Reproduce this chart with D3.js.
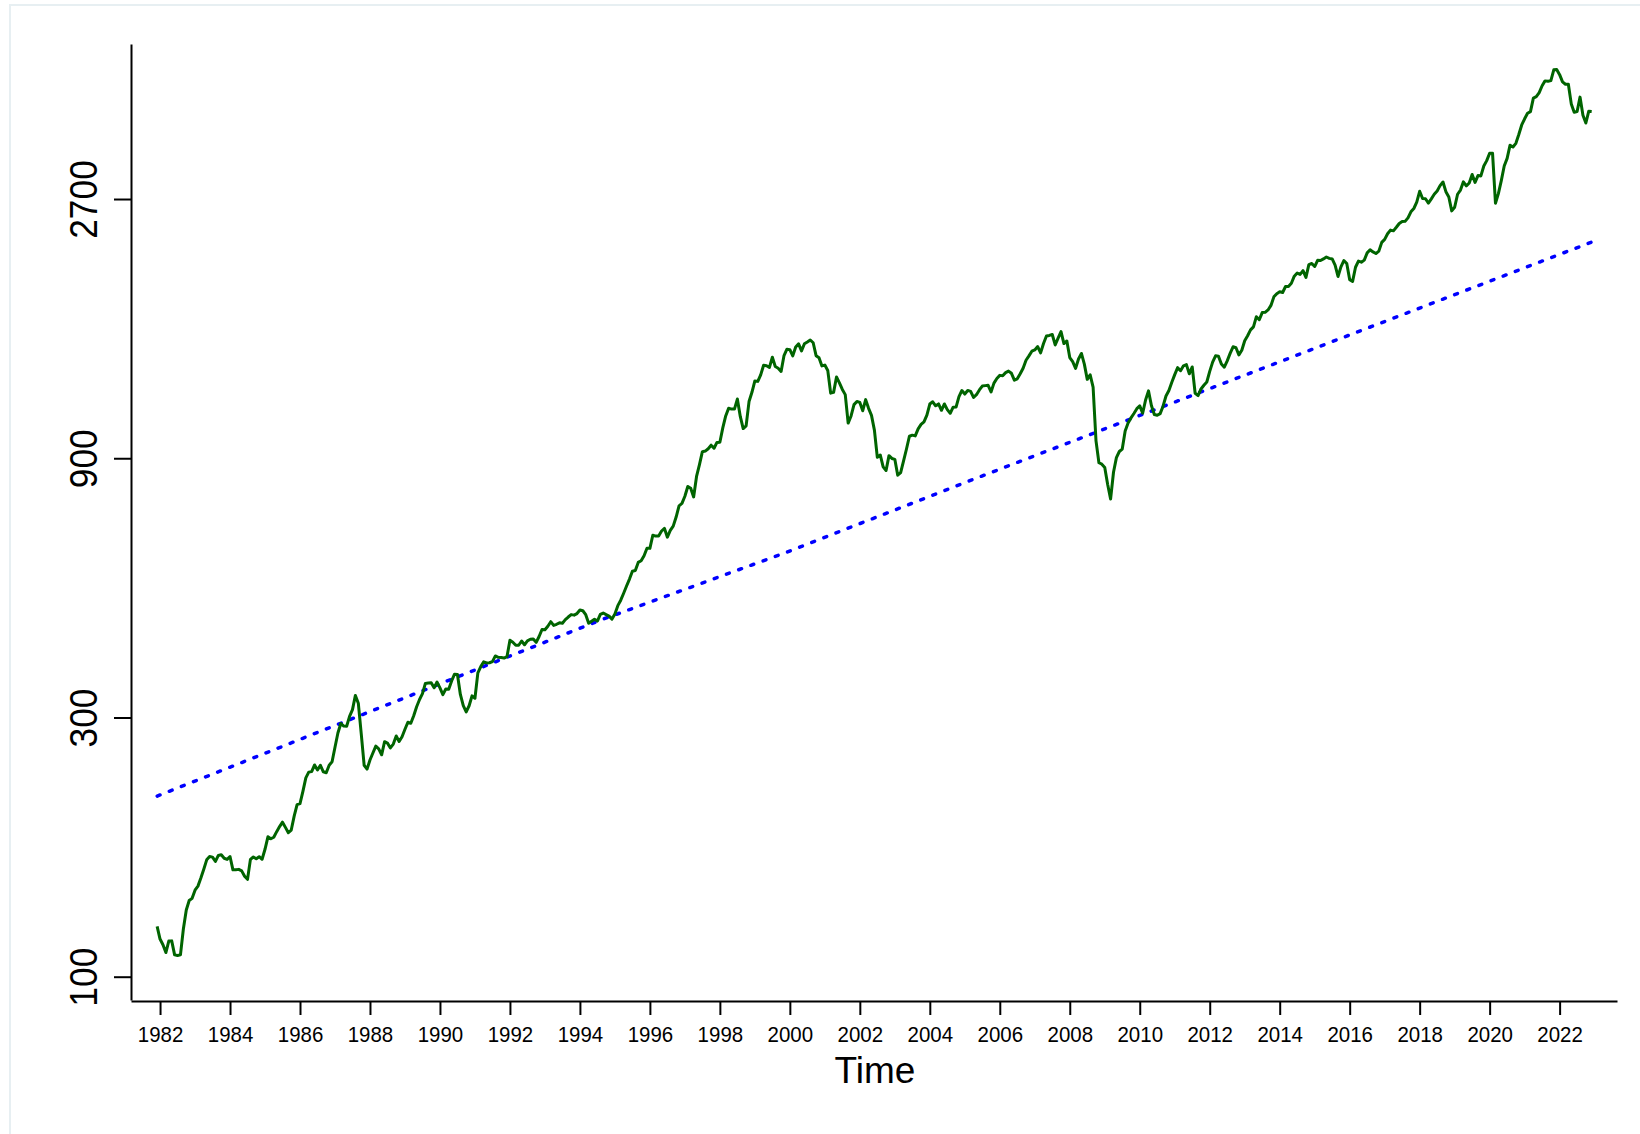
<!DOCTYPE html>
<html>
<head>
<meta charset="utf-8">
<script src="https://cdn.jsdelivr.net/npm/d3@7"></script>
<style>
    body { margin: 0; background: #fff; }
    #chart text { font-family: "Liberation Sans", Arial, Helvetica, sans-serif; fill: #000; }
</style>
</head>
<body>
<div id="chart"></div>
<script>
// S&P 500, monthly average level, Dec 1981 .. Dec 2022
const firstMonth = {year: 1981, month: 11}; // December 1981, month index 0..11

const sp1980s = [
    123.8,
    117.3, 114.5, 110.8, 116.3, 116.4, 109.7, 109.4, 109.7, 122.4, 132.7, 138.1, 139.4,
    144.3, 146.8, 151.9, 157.7, 164.1, 166.4, 166.0, 163.0, 167.2, 167.7, 165.2, 164.4,
    166.4, 157.3, 157.4, 157.6, 156.6, 153.1, 151.1, 164.4, 166.1, 164.8, 166.3, 164.5,
    171.6, 180.9, 179.4, 180.6, 184.9, 188.9, 192.5, 188.3, 184.1, 186.2, 197.5, 207.3,
    208.2, 219.4, 232.3, 238.0, 238.5, 245.3, 240.2, 245.0, 238.3, 237.4, 245.1, 248.6,
    264.5, 280.9, 292.5, 289.3, 289.1, 301.4, 310.1, 329.4, 318.7, 280.2, 245.0, 241.0,
    250.5, 258.1, 265.7, 262.6, 256.1, 270.7, 269.1, 263.7, 268.0, 277.4, 271.0, 276.5,
    285.4, 294.0, 292.7, 302.3, 313.9, 323.7, 331.9, 346.6, 347.3, 347.4, 340.2, 348.6
];
const sp1990s = [
    340.0, 330.5, 338.5, 338.2, 350.3, 360.4, 360.0, 330.8, 315.4, 307.1, 315.3, 328.8,
    325.5, 362.3, 372.3, 379.7, 378.0, 378.3, 380.2, 389.4, 387.2, 386.9, 385.9, 388.5,
    416.1, 412.6, 407.4, 407.4, 414.8, 408.3, 415.1, 417.9, 418.5, 412.5, 422.8, 435.6,
    435.2, 441.7, 450.2, 443.1, 445.3, 448.1, 447.3, 454.1, 459.2, 463.9, 462.9, 466.0,
    473.0, 471.6, 463.8, 447.2, 450.9, 454.8, 451.4, 464.2, 467.0, 463.8, 461.0, 455.2,
    465.3, 481.9, 493.2, 507.9, 523.8, 539.4, 557.4, 559.1, 578.8, 582.9, 595.5, 614.6,
    614.4, 649.5, 647.1, 647.2, 661.2, 668.5, 644.1, 662.7, 674.9, 701.5, 735.7, 743.3,
    766.2, 798.4, 792.2, 763.9, 833.1, 876.3, 925.3, 927.7, 937.0, 951.2, 938.9, 962.4,
    963.4, 1023.7, 1076.8, 1112.2, 1108.4, 1108.4, 1156.6, 1074.6, 1020.6, 1032.5, 1144.4, 1190.1,
    1248.8, 1246.6, 1281.7, 1334.8, 1332.1, 1322.6, 1381.0, 1327.5, 1318.2, 1300.0, 1391.0, 1428.7
];
const sp2000s = [
    1425.6, 1388.9, 1442.2, 1461.4, 1418.5, 1462.0, 1473.0, 1485.5, 1468.1, 1390.1, 1378.0, 1330.9,
    1335.8, 1305.8, 1185.9, 1189.8, 1270.4, 1238.7, 1204.5, 1178.5, 1044.6, 1076.6, 1129.7, 1144.9,
    1140.2, 1100.7, 1153.8, 1112.0, 1079.3, 1014.0, 903.6, 912.6, 867.8, 854.6, 909.9, 899.2,
    895.8, 837.6, 846.6, 890.0, 936.0, 988.0, 992.5, 989.5, 1019.4, 1038.7, 1049.9, 1080.6,
    1132.5, 1143.4, 1124.0, 1133.1, 1102.8, 1132.8, 1105.8, 1088.9, 1117.7, 1118.1, 1168.9, 1199.2,
    1181.4, 1199.6, 1194.9, 1164.4, 1178.3, 1202.3, 1222.2, 1224.3, 1225.9, 1192.0, 1237.4, 1262.1,
    1278.7, 1276.7, 1293.7, 1302.2, 1290.0, 1253.1, 1260.2, 1287.2, 1317.7, 1363.4, 1389.0, 1416.4,
    1424.2, 1444.8, 1406.8, 1463.6, 1511.1, 1514.5, 1520.7, 1454.6, 1497.1, 1539.7, 1463.4, 1479.2,
    1378.8, 1354.9, 1316.9, 1370.5, 1403.2, 1341.3, 1257.3, 1281.5, 1217.0, 968.8, 883.0, 877.6,
    865.6, 805.2, 757.1, 848.2, 902.4, 926.1, 935.8, 1009.7, 1044.6, 1067.7, 1088.1, 1110.4
];
const sp2010s = [
    1123.6, 1089.2, 1152.1, 1197.3, 1125.1, 1083.4, 1079.8, 1087.3, 1122.1, 1171.6, 1198.9, 1241.5,
    1282.6, 1321.1, 1304.5, 1331.5, 1338.3, 1287.3, 1325.2, 1185.3, 1173.9, 1207.2, 1226.4, 1243.3,
    1300.6, 1352.5, 1389.2, 1386.4, 1341.3, 1323.5, 1359.8, 1403.4, 1443.4, 1437.8, 1394.5, 1422.3,
    1480.4, 1512.3, 1550.8, 1570.7, 1639.8, 1618.8, 1668.7, 1670.1, 1687.2, 1720.0, 1783.5, 1807.8,
    1822.4, 1817.0, 1863.5, 1864.3, 1889.8, 1947.1, 1973.1, 1961.5, 1993.2, 1937.3, 2044.6, 2054.3,
    2028.2, 2082.2, 2080.0, 2094.9, 2111.9, 2099.3, 2094.1, 2039.9, 1944.4, 2024.8, 2080.6, 2054.1,
    1918.6, 1904.4, 2022.0, 2075.5, 2065.6, 2083.9, 2148.9, 2177.5, 2157.7, 2143.0, 2165.0, 2246.6,
    2275.1, 2329.9, 2366.8, 2359.3, 2395.3, 2434.0, 2454.1, 2456.2, 2492.8, 2557.0, 2593.6, 2664.3,
    2789.8, 2705.2, 2702.8, 2653.6, 2701.5, 2754.4, 2793.6, 2857.8, 2901.5, 2785.5, 2723.2, 2567.3,
    2607.4, 2754.9, 2804.0, 2903.8, 2854.7, 2890.2, 2996.1, 2897.5, 2982.2, 2977.7, 3104.9, 3176.7
];
const sp2020s = [
    3278.2, 3277.3, 2652.4, 2762.0, 2919.6, 3104.7, 3207.6, 3391.7, 3365.5, 3418.7, 3549.0, 3695.3,
    3793.7, 3883.4, 3910.5, 4141.2, 4167.9, 4238.5, 4363.7, 4454.2, 4445.5, 4460.7, 4667.4, 4674.8,
    4573.8, 4436.0, 4391.3, 4391.3, 4040.4, 3898.9, 3911.7, 4158.6, 3850.5, 3726.1, 3917.5, 3912.4
];

// dotted trend line, read at a few points along its length [time, level]
const trendTimes = [1981.92, 1994.58, 1999.87, 2005.2, 2022.92];
const trendValues = [215, 453, 603, 821, 2250];

// axis ticks
const yTickValues = [100, 300, 900, 2700];
const xTickValues = d3.range(1982, 2023, 2);
const xTitle = "Time";

const width = 1640;
const height = 1134;

function buildSeries() {
    const all = [].concat(sp1980s, sp1990s, sp2000s, sp2010s, sp2020s);
    return all.map((v, i) => ({
        t: firstMonth.year + (firstMonth.month + i) / 12,
        value: v
    }));
}

function createChart() {
    const series = buildSeries();
    const trend = trendTimes.map((t, i) => ({t: t, value: trendValues[i]}));

    const svg = d3.select("#chart")
        .append("svg")
        .attr("width", width)
        .attr("height", height);

    // faint frame round the picture
    svg.append("rect")
        .attr("x", 10)
        .attr("y", 5)
        .attr("width", 1700)
        .attr("height", 1300)
        .attr("fill", "none")
        .attr("stroke", "#e7eff2")
        .attr("stroke-width", 2);

    const x = d3.scaleLinear()
        .domain([1981.17, 2023.64])
        .range([131, 1617]);

    const y = d3.scaleLog()
        .domain([90.6, 5208])
        .range([1000, 44]);

    // axes
    const yAxis = svg.append("g")
        .attr("transform", "translate(131,0)")
        .call(d3.axisLeft(y)
            .tickValues(yTickValues)
            .tickFormat(d3.format("d"))
            .tickSize(17)
            .tickSizeOuter(0));

    yAxis.selectAll("text")
        .attr("x", 0)
        .attr("y", 0)
        .attr("dy", 0)
        .attr("transform", "translate(-34,0) rotate(-90)")
        .attr("text-anchor", "middle")
        .style("font-size", "38px");

    const xAxis = svg.append("g")
        .attr("transform", "translate(0,1001)")
        .call(d3.axisBottom(x)
            .tickValues(xTickValues)
            .tickFormat(d3.format("d"))
            .tickSize(14)
            .tickSizeOuter(0));

    xAxis.selectAll("text")
        .attr("y", 41)
        .attr("dy", 0)
        .style("font-size", "22px");

    svg.selectAll(".domain, .tick line")
        .attr("stroke", "#000")
        .attr("stroke-width", 2);

    // squeeze the tick labels a little, the original font is narrower
    svg.selectAll(".tick text").each(function() {
        const len = this.getComputedTextLength();
        d3.select(this)
            .attr("textLength", len * 0.93)
            .attr("lengthAdjust", "spacingAndGlyphs");
    });

    svg.append("text")
        .attr("x", 875)
        .attr("y", 1083)
        .attr("text-anchor", "middle")
        .style("font-size", "37px")
        .text(xTitle);

    const line = d3.line()
        .x(d => x(d.t))
        .y(d => y(d.value));

    // trend (blue, dotted)
    svg.append("path")
        .datum(trend)
        .attr("d", line)
        .attr("fill", "none")
        .attr("stroke", "#0000ff")
        .attr("stroke-width", 3.5)
        .attr("stroke-linecap", "round")
        .attr("stroke-dasharray", "3,10");

    // index (dark green)
    svg.append("path")
        .datum(series)
        .attr("d", line)
        .attr("fill", "none")
        .attr("stroke", "#006400")
        .attr("stroke-width", 3)
        .attr("stroke-linejoin", "round");
}

document.addEventListener('DOMContentLoaded', function() {
    createChart();
});
</script>
</body>
</html>
